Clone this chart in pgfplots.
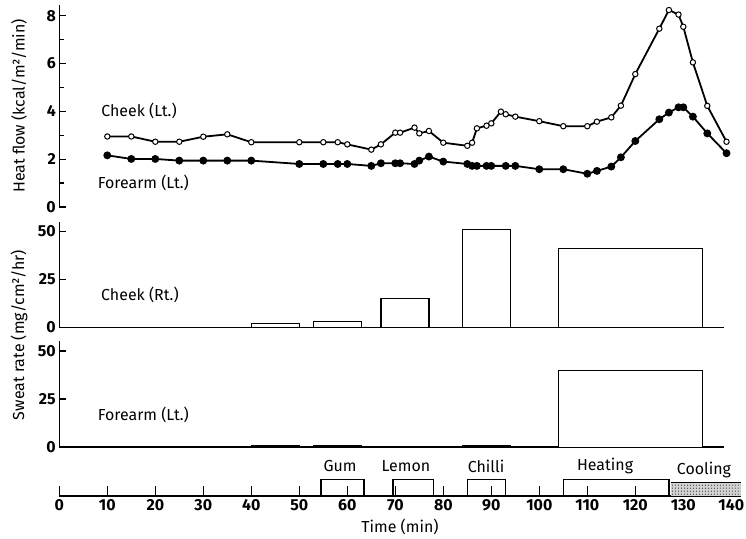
\documentclass[border=0pt]{standalone}
\usepackage{fontspec}
\setmainfont{Fira Sans}
\usepackage{pgfplots}
\pgfplotsset{compat=1.18}
\usetikzlibrary{patterns}

\newcommand\lab{\fontsize{16}{18}\selectfont}

\pgfplotsset{
  panel/.style={
    scale only axis, enlargelimits=false, clip=false, xmin=0,
    tick style={black, line width=1.3bp}, tick align=inside,
    major tick length=7bp, minor tick length=5bp,
    ticklabel style={font=\fontsize{16}{16}\selectfont\bfseries},
    /pgf/number format/assume math mode=true,
  },
  plain lines/.style={
    axis line style={-, line width=1.3bp, black},
    every outer x axis line/.append style={-},
    every outer y axis line/.append style={-},
    every inner x axis line/.append style={-},
    every inner y axis line/.append style={-},
  },
  left ticks/.style={ytick align=inside, ytick pos=left},
  bar/.style={draw=black, fill=white, line width=1.3bp},
  thin bar/.style={draw=black, fill=black, line width=0.8bp},
}

\begin{document}
\begin{tikzpicture}
\useasboundingbox (0,0) rectangle (746bp,539bp);

% heat flow
\begin{axis}[panel, at={(59.3bp,332bp)}, anchor=south west,
  width=672bp, height=202bp, xmax=140, ymin=0, ymax=8.45,
  axis y line=left, axis x line=none, xtick=\empty,
  ytick={0,2,4,6,8}, minor ytick={1,3,5,7}, plain lines, left ticks]
\addplot[black, line width=1.8bp, mark=*, mark size=2.7bp,
  mark options={fill=white, line width=1bp}] coordinates {
  (10,2.95)(15,2.95)(20,2.73)(25,2.73)(30,2.94)(35,3.04)(40,2.71)(50,2.71)
  (55,2.71)(58,2.71)(60,2.62)(65,2.40)(67,2.62)(70,3.11)(71,3.11)(74,3.32)
  (75,3.08)(77,3.18)(80,2.69)(85,2.56)(86,2.69)(87,3.29)(89,3.40)(90,3.50)
  (92,3.99)(93,3.88)(95,3.78)(100,3.59)(105,3.38)(110,3.38)(112,3.57)
  (115,3.75)(117,4.24)(120,5.56)(125,7.46)(127,8.24)(129,8.05)(130,7.54)
  (132,6.05)(135,4.23)(139,2.73)};
\addplot[black, line width=1.8bp, mark=*, mark size=3bp] coordinates {
  (10,2.16)(15,2.01)(20,2.01)(25,1.94)(30,1.94)(35,1.94)(40,1.94)(50,1.80)
  (55,1.80)(58,1.80)(60,1.80)(65,1.72)(67,1.83)(70,1.83)(71,1.83)(74,1.80)
  (75,1.94)(77,2.11)(80,1.90)(85,1.80)(86,1.72)(87,1.72)(89,1.72)(90,1.72)
  (93,1.72)(95,1.72)(100,1.58)(105,1.58)(110,1.39)(112,1.51)(115,1.69)
  (117,2.08)(120,2.76)(125,3.67)(127,3.95)(129,4.17)(130,4.17)(132,3.78)
  (135,3.08)(139,2.25)};
\node[font=\lab] at (axis cs:16.6,4.0) {Cheek (Lt.)};
\node[font=\lab] at (axis cs:17.5,1.0) {Forearm (Lt.)};
\end{axis}

% sweat rate, cheek
\begin{axis}[panel, at={(59.3bp,211.5bp)}, anchor=south west,
  width=664.8bp, height=105.6bp, xmax=138.5, ymin=0, ymax=55,
  axis y line=left, axis x line=bottom, xtick=\empty, ytick={0,25,50},
  plain lines, left ticks]
\addplot[bar] coordinates {(40,0)(40,2)(50,2)(50,0)};
\addplot[bar] coordinates {(53,0)(53,3)(63,3)(63,0)};
\addplot[bar] coordinates {(67,0)(67,15)(77,15)(77,0)};
\addplot[bar] coordinates {(84,0)(84,51)(94,51)(94,0)};
\addplot[bar] coordinates {(104,0)(104,41)(134,41)(134,0)};
\node[font=\lab] at (axis cs:16.8,17) {Cheek (Rt.)};
\end{axis}

% sweat rate, forearm
\begin{axis}[panel, at={(59.3bp,92bp)}, anchor=south west,
  width=664.8bp, height=105.6bp, xmax=138.5, ymin=0, ymax=55,
  axis y line=left, axis x line=bottom, xtick=\empty, ytick={0,25,50},
  plain lines, left ticks]
\addplot[thin bar] coordinates {(40,0)(40,1)(50,1)(50,0)};
\addplot[thin bar] coordinates {(53,0)(53,0.6)(63,0.6)(63,0)};
\addplot[thin bar] coordinates {(67,0)(67,0.4)(77,0.4)(77,0)};
\addplot[thin bar] coordinates {(84,0)(84,1)(94,1)(94,0)};
\addplot[bar] coordinates {(104,0)(104,40)(134,40)(134,0)};
\node[font=\lab] at (axis cs:17.5,16.7) {Forearm (Lt.)};
\end{axis}

% time line with stimuli
\begin{axis}[panel, at={(59.3bp,43bp)}, anchor=south west,
  width=681.6bp, height=16.5bp, xmax=142, ymin=0, ymax=1,
  axis x line=bottom, axis y line=none, ytick=\empty,
  xtick={0,10,...,140}, xtick align=inside, xtick pos=bottom,
  major tick length=10bp, plain lines]
\addplot[draw=none, fill=gray!35] coordinates {(127.5,0)(127.5,0.8)(142,0.8)(142,0)} -- cycle;
\addplot[draw=none, pattern=dots, pattern color=black] coordinates {(127.5,0)(127.5,0.8)(142,0.8)(142,0)} -- cycle;
\addplot[black, line width=1.3bp] coordinates {(127.5,0.8)(142,0.8)};
\addplot[bar, fill=none] coordinates {(54.5,0)(54.5,1)(63.5,1)(63.5,0)};
\addplot[bar, fill=none] coordinates {(69.5,0)(69.5,1)(78,1)(78,0)};
\addplot[bar, fill=none] coordinates {(85,0)(85,1)(93,1)(93,0)};
\addplot[bar, fill=none] coordinates {(105,0)(105,1)(127,1)(127,0)};
\node[font=\lab] at (axis cs:58.5,1.8) {Gum};
\node[font=\lab] at (axis cs:72.2,1.8) {Lemon};
\node[font=\lab] at (axis cs:88.9,1.8) {Chilli};
\node[font=\lab] at (axis cs:113.7,1.8) {Heating};
\node[font=\lab] at (axis cs:134.3,1.6) {Cooling};
\end{axis}

\node[font=\lab, rotate=90] at (19bp,433bp) {Heat flow (kcal/m²/min)};
\node[font=\lab, rotate=90] at (19bp,204bp) {Sweat rate (mg/cm²/hr)};
\node[font=\lab] at (400bp,12bp) {Time (min)};
\end{tikzpicture}
\end{document}
